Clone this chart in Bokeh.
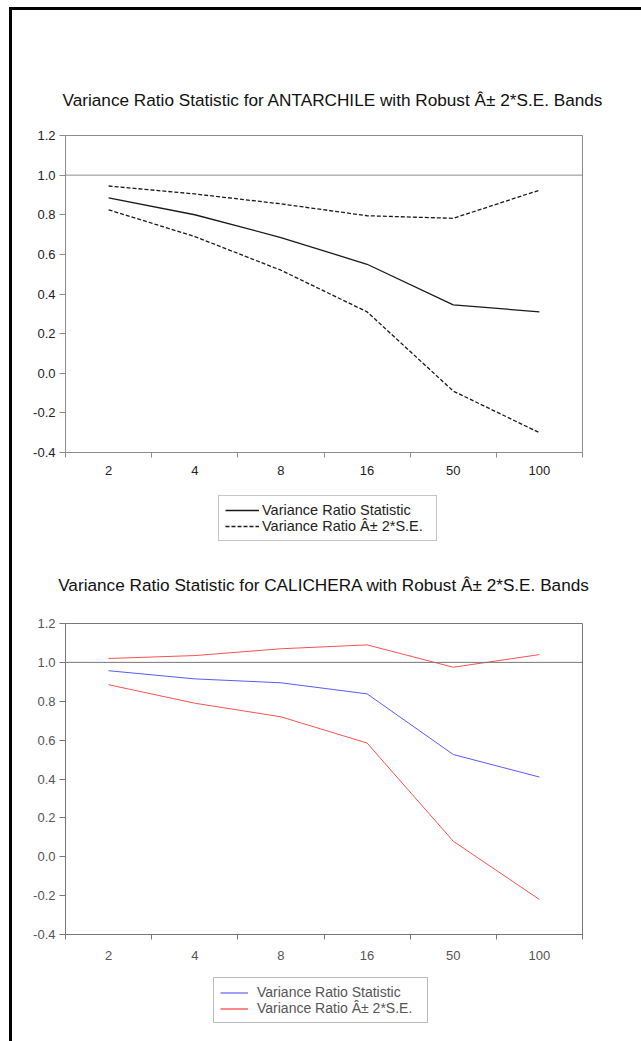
from bokeh.plotting import figure
from bokeh.models import (FixedTicker, PrintfTickFormatter, Span, Legend, LegendItem,
                          Range1d, Spacer)
from bokeh.layouts import column, row
from bokeh.embed import file_html
from bokeh.resources import INLINE

# ---- data ----
lags = ["2", "4", "8", "16", "50", "100"]
ant_stat = [0.885, 0.800, 0.685, 0.550, 0.345, 0.310]
ant_upper = [0.945, 0.905, 0.855, 0.795, 0.782, 0.924]
ant_lower = [0.825, 0.690, 0.520, 0.310, -0.090, -0.300]
cal_stat = [0.957, 0.915, 0.895, 0.838, 0.526, 0.410]
cal_upper = [1.020, 1.035, 1.070, 1.090, 0.975, 1.040]
cal_lower = [0.885, 0.790, 0.720, 0.585, 0.080, -0.220]
y_ticks = [-0.4, -0.2, 0.0, 0.2, 0.4, 0.6, 0.8, 1.0, 1.2]
title_ant = "Variance Ratio Statistic for ANTARCHILE with Robust \u00c2\u00b1 2*S.E. Bands"
title_cal = "Variance Ratio Statistic for CALICHERA with Robust \u00c2\u00b1 2*S.E. Bands"
label_stat = "Variance Ratio Statistic"
label_band = "Variance Ratio \u00c2\u00b1 2*S.E."

FONT = "Liberation Sans"


def make_chart(title, stat, upper, lower, height, bl, br, bt, bb, stat_color, band_color,
               band_dash, lw, text_color, axis_color, standoff, x_standoff,
               title_align, title_offset):
    xs = [i + 0.5 for i in range(len(lags))]
    p = figure(width=629, height=height, output_backend="svg", toolbar_location=None,
               x_range=Range1d(0, len(lags)), y_range=Range1d(-0.4, 1.2),
               min_border_left=bl, min_border_right=br, min_border_top=bt,
               min_border_bottom=bb)
    p.title.text = title
    p.title.align = title_align
    p.title.offset = title_offset
    p.title.text_font = FONT
    p.title.text_font_size = "17.2px"
    p.title.text_font_style = "normal"
    p.title.text_color = "#111111"
    p.title.standoff = standoff
    p.xgrid.visible = False
    p.ygrid.visible = False
    p.outline_line_color = axis_color

    xa = p.xaxis[0]
    xa.ticker = FixedTicker(ticks=xs, minor_ticks=list(range(len(lags) + 1)))
    xa.major_label_overrides = {x: l for x, l in zip(xs, lags)}
    xa.major_tick_out = 0
    xa.major_tick_in = 0
    xa.minor_tick_out = 5
    xa.minor_tick_in = 0
    xa.minor_tick_line_color = axis_color
    xa.axis_line_color = axis_color
    xa.major_label_standoff = x_standoff

    ya = p.yaxis[0]
    ya.ticker = FixedTicker(ticks=y_ticks, minor_ticks=[])
    ya.formatter = PrintfTickFormatter(format="%.1f")
    ya.major_tick_out = 6
    ya.major_tick_in = 0
    ya.major_tick_line_color = axis_color
    ya.axis_line_color = axis_color
    ya.minor_tick_line_color = None
    ya.major_label_standoff = 4

    for ax in (xa, ya):
        ax.major_label_text_font = FONT
        ax.major_label_text_font_size = "13px"
        ax.major_label_text_color = text_color

    p.add_layout(Span(location=1.0, dimension="width", line_color=axis_color, line_width=1))

    p.line(xs, upper, line_color=band_color, line_width=lw, line_dash=band_dash)
    p.line(xs, lower, line_color=band_color, line_width=lw, line_dash=band_dash)
    p.line(xs, stat, line_color=stat_color, line_width=lw)
    return p


def make_legend(height, loc, stat_color, band_color, band_dash, lw, text_color, border_color,
                row_h, pad, glyph_w, standoff, label_w, font_size):
    q = figure(width=629, height=height, output_backend="svg", toolbar_location=None,
               x_range=Range1d(0, 1), y_range=Range1d(0, 1),
               x_axis_type=None, y_axis_type=None,
               min_border_left=0, min_border_right=0, min_border_top=0, min_border_bottom=0)
    q.xgrid.visible = False
    q.ygrid.visible = False
    q.outline_line_color = None
    # legend-only renderers: their points lie outside the visible range
    r_st = q.line(x=[-5, -4], y=[-5, -4], line_color=stat_color, line_width=lw)
    r_bd = q.line(x=[-5, -4], y=[-5, -4], line_color=band_color, line_width=lw,
                  line_dash=band_dash)
    leg = Legend(items=[LegendItem(label=label_stat, renderers=[r_st]),
                        LegendItem(label=label_band, renderers=[r_bd])],
                 location=loc, orientation="vertical", margin=0,
                 border_line_color=border_color, border_line_width=1,
                 label_text_font=FONT, label_text_font_size=font_size,
                 label_text_color=text_color, label_height=row_h, glyph_height=row_h,
                 glyph_width=glyph_w, label_width=label_w, spacing=0, padding=pad,
                 label_standoff=standoff, background_fill_alpha=1.0)
    q.add_layout(leg)
    return q


p1 = make_chart(title_ant, ant_stat, ant_upper, ant_lower, 475, 53, 50, 125, 33,
                "#1a1a1a", "#1a1a1a", "4 2", 1.3, "#222222", "#8c8c8c", 52, 8,
                "left", -3)
l1 = make_legend(58, (153, 2), "#1a1a1a", "#1a1a1a", "4 2", 1.3, "#222222", "#8c8c8c",
                 16, 6, 34, 3, 168, "14.5px")
p2 = make_chart(title_cal, cal_stat, cal_upper, cal_lower, 427, 50, 59, 79, 36,
                "#5a5aff", "#ff5050", "solid", 1.0, "#555555", "#777777", 58, 11,
                "center", 0)
l2 = make_legend(61, (148, 8), "#8080ff", "#ff6060", "solid", 1.5, "#555555", "#777777",
                 15, 6, 28, 9, 164, "14px")

top_bar = Spacer(width=632, height=3, styles={"background-color": "black"})
left_bar = Spacer(width=3, height=1031, styles={"background-color": "black"})
inner = column(top_bar, row(left_bar, column(p1, l1, p2, l2)))
layout = column(Spacer(width=641, height=7), row(Spacer(width=9, height=1034), inner))

open("out.html", "w").write(file_html(layout, INLINE))
